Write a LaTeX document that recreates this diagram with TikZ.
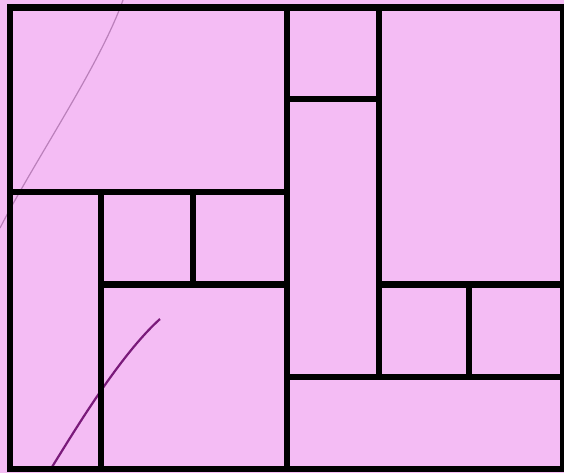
\documentclass[tikz,border=0pt]{standalone}
\definecolor{roompink}{RGB}{244,188,244}
\definecolor{tracelight}{RGB}{186,128,186}
\definecolor{tracedark}{RGB}{122,26,122}

\begin{document}
\begin{tikzpicture}[x=.25mm,y=-.25mm]
\fill[roompink] (0,0) rectangle (564,473);
\useasboundingbox (0,0) rectangle (564,473);
\draw[tracelight,line width=.3mm] (0,228) .. controls (35,160) and (100,65) .. (123,0);
\draw[tracedark,line width=.55mm] (52,467) .. controls (75,430) and (120,355) .. (160,319);
\draw[line width=1.7mm,line cap=rect] (10,7.5) rectangle (563,469);
\foreach \a/\b in {{287,7.5}/{287,469},{379,7.5}/{379,377},{287,99}/{379,99},{10,192}/{287,192},{101,192}/{101,469},{193,192}/{193,284.5},{101,284.5}/{287,284.5},{379,284.5}/{563,284.5},{469,284.5}/{469,377},{287,377}/{563,377}}
  \draw[line width=1.7mm,line cap=rect] (\a)--(\b);
\end{tikzpicture}
\end{document}
